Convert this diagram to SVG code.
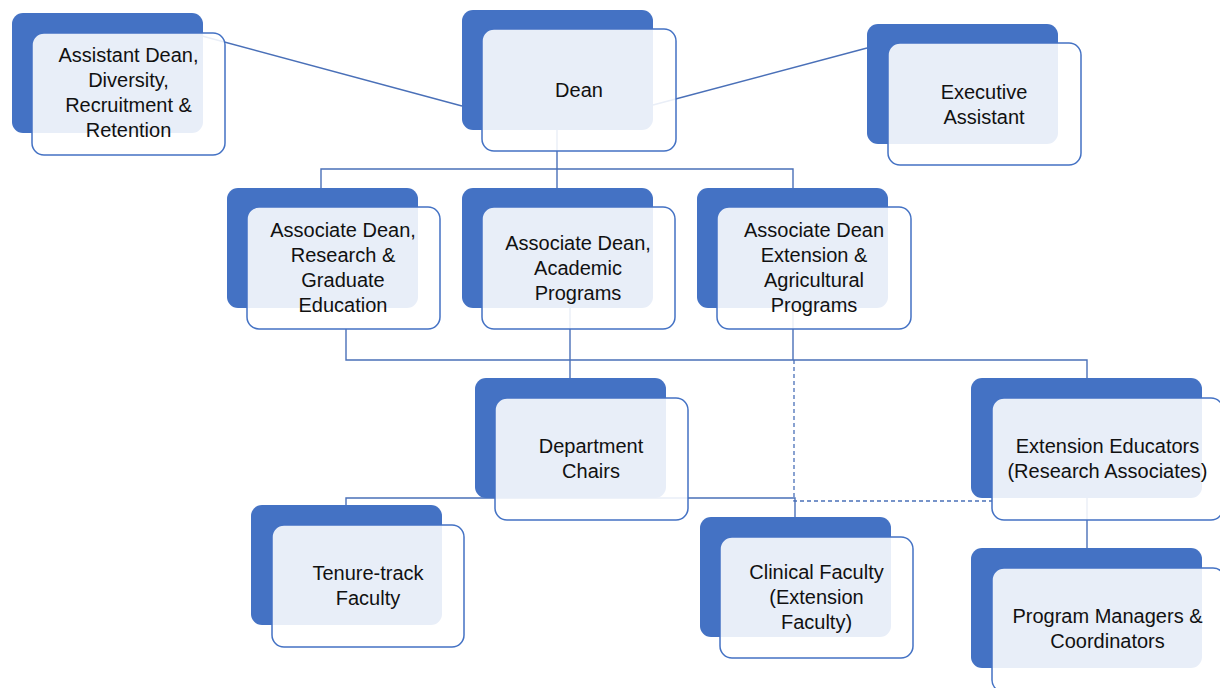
<svg xmlns="http://www.w3.org/2000/svg" width="1220" height="688" viewBox="0 0 1220 688">
  <style>
    .back { fill: #4472C4; }
    .front { fill: #ffffff; fill-opacity: 0.88; stroke: #4472C4; stroke-width: 1.5; }
    .wire { fill: none; stroke: #4A70B8; stroke-width: 1.4; }
    .dash { fill: none; stroke: #4A70B8; stroke-width: 1.3; stroke-dasharray: 4 3; }
    text { font-family: "Liberation Sans", Arial, sans-serif; font-size: 20px; fill: #111111; text-anchor: middle; }
  </style>
  <rect width="1220" height="688" fill="#ffffff"/>

  <!-- connectors sit beneath the node shapes -->
  <g id="connectors">
    <line class="wire" x1="202" y1="36" x2="462" y2="106"/>
    <line class="wire" x1="653" y1="105" x2="867" y2="48"/>
    <path class="wire" d="M557 130 V169 M321 188 V169 H793 V188 M557 169 V188"/>
    <path class="wire" d="M346 329 V360 H1087 V378 M570 308 V378 M793 308 V360"/>
    <path class="wire" d="M346 505 V498 H795 V517"/>
    <path class="dash" d="M794 360 V501 H992"/>
    <line class="wire" x1="1087" y1="498" x2="1087" y2="548"/>
  </g>

  <g id="asst-dean">
    <rect class="back" x="12" y="13" width="191" height="120" rx="11"/>
    <rect class="front" x="32" y="33" width="193" height="122" rx="12"/>
    <text x="128.5" y="62">Assistant Dean,</text>
    <text x="128.5" y="87">Diversity,</text>
    <text x="128.5" y="112">Recruitment &amp;</text>
    <text x="128.5" y="137">Retention</text>
  </g>

  <g id="dean">
    <rect class="back" x="462" y="10" width="191" height="120" rx="11"/>
    <rect class="front" x="482" y="29" width="194" height="122" rx="12"/>
    <text x="579" y="97">Dean</text>
  </g>

  <g id="exec-asst">
    <rect class="back" x="867" y="24" width="191" height="120" rx="11"/>
    <rect class="front" x="888" y="43" width="193" height="122" rx="12"/>
    <text x="984" y="99">Executive</text>
    <text x="984" y="124">Assistant</text>
  </g>

  <g id="assoc-research">
    <rect class="back" x="227" y="188" width="191" height="120" rx="11"/>
    <rect class="front" x="247" y="207" width="193" height="122" rx="12"/>
    <text x="343" y="237">Associate Dean,</text>
    <text x="343" y="262">Research &amp;</text>
    <text x="343" y="287">Graduate</text>
    <text x="343" y="312">Education</text>
  </g>

  <g id="assoc-academic">
    <rect class="back" x="462" y="188" width="191" height="120" rx="11"/>
    <rect class="front" x="482" y="207" width="193" height="122" rx="12"/>
    <text x="578" y="250">Associate Dean,</text>
    <text x="578" y="275">Academic</text>
    <text x="578" y="300">Programs</text>
  </g>

  <g id="assoc-extension">
    <rect class="back" x="697" y="188" width="191" height="120" rx="11"/>
    <rect class="front" x="717" y="207" width="194" height="122" rx="12"/>
    <text x="814" y="237">Associate Dean</text>
    <text x="814" y="262">Extension &amp;</text>
    <text x="814" y="287">Agricultural</text>
    <text x="814" y="312">Programs</text>
  </g>

  <g id="dept-chairs">
    <rect class="back" x="475" y="378" width="191" height="120" rx="11"/>
    <rect class="front" x="495" y="398" width="193" height="122" rx="12"/>
    <text x="591" y="453">Department</text>
    <text x="591" y="478">Chairs</text>
  </g>

  <g id="ext-educators">
    <rect class="back" x="971" y="378" width="231" height="120" rx="11"/>
    <rect class="front" x="992" y="398" width="231" height="122" rx="12"/>
    <text x="1107.5" y="453">Extension Educators</text>
    <text x="1107.5" y="478">(Research Associates)</text>
  </g>

  <g id="tenure-track">
    <rect class="back" x="251" y="505" width="191" height="120" rx="11"/>
    <rect class="front" x="272" y="525" width="192" height="122" rx="12"/>
    <text x="368" y="580">Tenure-track</text>
    <text x="368" y="605">Faculty</text>
  </g>

  <g id="clinical">
    <rect class="back" x="700" y="517" width="191" height="120" rx="11"/>
    <rect class="front" x="720" y="537" width="193" height="121" rx="12"/>
    <text x="816.5" y="579">Clinical Faculty</text>
    <text x="816.5" y="604">(Extension</text>
    <text x="816.5" y="629">Faculty)</text>
  </g>

  <g id="program-managers">
    <rect class="back" x="971" y="548" width="231" height="120" rx="11"/>
    <rect class="front" x="992" y="568" width="233" height="124" rx="12"/>
    <text x="1107.5" y="623">Program Managers &amp;</text>
    <text x="1107.5" y="648">Coordinators</text>
  </g>
</svg>
